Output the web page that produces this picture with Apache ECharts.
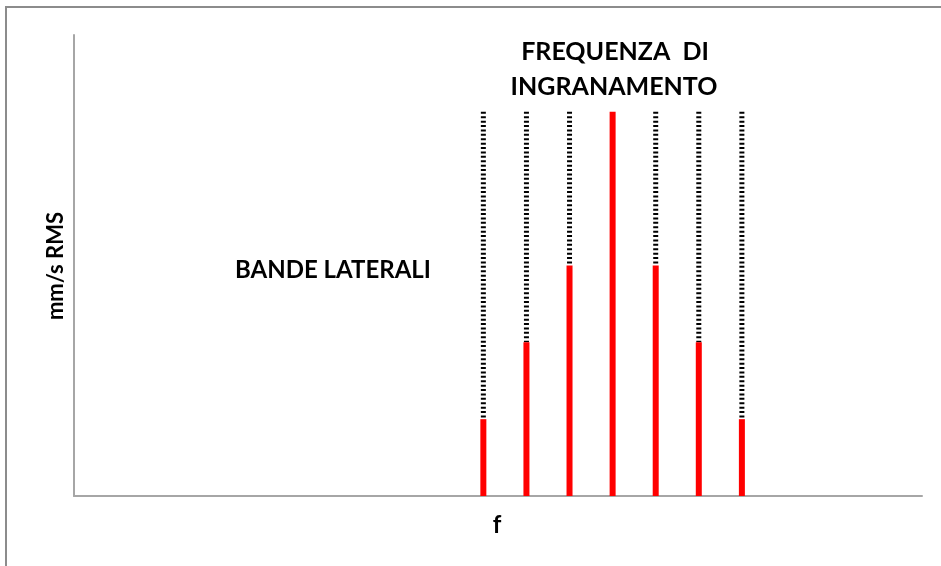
<!DOCTYPE html>
<html>
<head>
<meta charset="utf-8">
<script src="https://cdn.jsdelivr.net/npm/echarts@6/dist/echarts.min.js"></script>
<style>
  html, body { margin: 0; padding: 0; background: #fff; }
  #chart { width: 941px; height: 566px; }
</style>
</head>
<body>
<div id="chart"></div>
<script>
// Sideband order around the gear-mesh frequency (0 = mesh line)
const orders = [-3, -2, -1, 0, 1, 2, 3];
// Amplitudes of each spectral line
const amplitudes = [1, 2, 3, 5, 3, 2, 1];
// Reference level reached by the mesh line; dotted guides run up to it
const meshLevel = 5;

const FONT = 'Lato, "Open Sans", sans-serif';
const chart = echarts.init(document.getElementById('chart'));

const lines = orders.map((o, i) => [o, amplitudes[i]]);

chart.setOption({
  animation: false,
  backgroundColor: '#fff',
  grid: { left: 74, top: 35, right: 19, bottom: 70, containLabel: false },
  xAxis: {
    type: 'value', min: -12.5, max: 7.18,
    axisLine: { show: true, onZero: false, lineStyle: { color: '#a6a6a6', width: 2 } },
    axisTick: { show: false }, axisLabel: { show: false }, splitLine: { show: false }
  },
  yAxis: {
    type: 'value', min: 0, max: 6,
    axisLine: { show: true, onZero: false, lineStyle: { color: '#a6a6a6', width: 2 } },
    axisTick: { show: false }, axisLabel: { show: false }, splitLine: { show: false }
  },
  series: [
    {
      // dotted guides from the top of each line to the mesh level
      type: 'custom',
      data: lines,
      renderItem: (params, api) => {
        const top = api.coord([api.value(0), meshLevel]);
        const bot = api.coord([api.value(0), api.value(1)]);
        if (bot[1] - top[1] < 1) return null;
        return {
          type: 'line',
          shape: { x1: top[0], y1: top[1], x2: bot[0], y2: bot[1] },
          style: { stroke: '#000', lineWidth: 5, lineDash: [2, 2.4] }
        };
      }
    },
    {
      // red spectral lines
      type: 'custom',
      data: lines,
      renderItem: (params, api) => {
        const top = api.coord([api.value(0), api.value(1)]);
        const bot = api.coord([api.value(0), 0]);
        const w = 6;
        return {
          type: 'rect',
          shape: { x: top[0] - w / 2, y: top[1], width: w, height: bot[1] - top[1] },
          style: { fill: '#ff0000' }
        };
      }
    }
  ],
  graphic: [
    {
      type: 'rect', silent: true, z: -1,
      shape: { x: 6, y: 7, width: 1000, height: 700 },
      style: { fill: 'none', stroke: '#8c8c8c', lineWidth: 2 }
    },
    {
      type: 'text', x: 615, y: 52,
      style: { text: 'FREQUENZA  DI', font: 'bold 25px ' + FONT, fill: '#000', align: 'center', verticalAlign: 'middle' }
    },
    {
      type: 'text', x: 614, y: 87,
      style: { text: 'INGRANAMENTO', font: 'bold 25px ' + FONT, fill: '#000', align: 'center', verticalAlign: 'middle' }
    },
    {
      type: 'text', x: 333, y: 270,
      style: { text: 'BANDE LATERALI', font: 'bold 24px ' + FONT, fill: '#000', align: 'center', verticalAlign: 'middle' }
    },
    {
      type: 'text', x: 56, y: 266, rotation: Math.PI / 2,
      style: { text: 'mm/s RMS', font: 'bold 22px ' + FONT, fill: '#000', align: 'center', verticalAlign: 'middle' }
    },
    {
      type: 'text', x: 497, y: 525,
      style: { text: 'f', font: 'bold 24px ' + FONT, fill: '#000', align: 'center', verticalAlign: 'middle' }
    }
  ]
});
</script>
</body>
</html>
